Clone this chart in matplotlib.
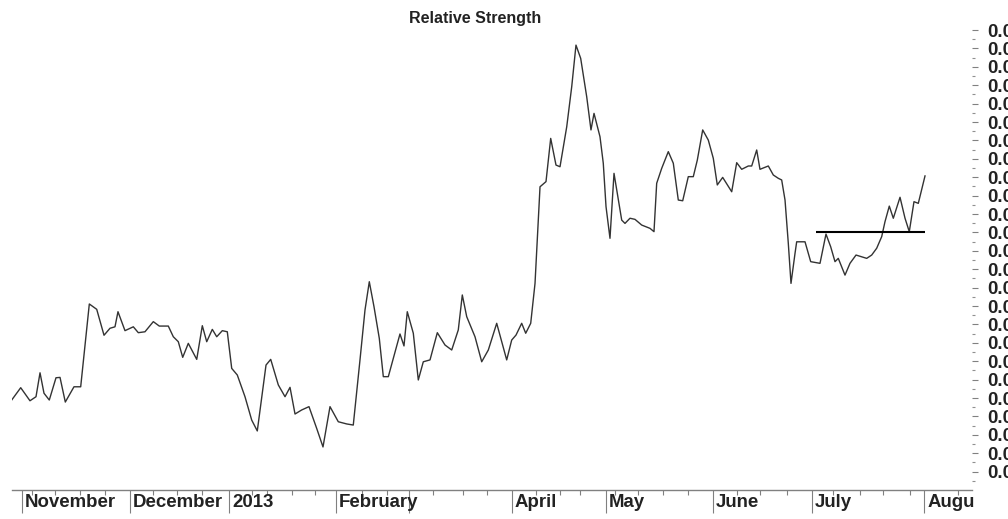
import numpy as np
import matplotlib.pyplot as plt
from matplotlib.transforms import Bbox, TransformedBbox, ScaledTranslation
from matplotlib.ticker import FormatStrFormatter

plt.rcParams['font.family'] = ['Liberation Sans', 'DejaVu Sans']

# trading day index (from first bar) and relative strength value
days = [0.0, 1.84, 3.73, 4.96, 5.78, 6.59, 7.67, 9.04, 9.86, 10.94,
        12.71, 14.08, 15.84, 17.35, 18.84, 20.06, 21.08, 21.69, 23.12, 24.82,
        25.84, 27.20, 28.90, 30.12, 31.96, 32.98, 34.00, 34.90, 36.04, 37.76,
        38.90, 39.80, 40.94, 41.84, 42.98, 44.00, 44.90, 46.04, 47.61, 48.98,
        50.12, 51.90, 52.86, 54.41, 55.78, 56.80, 57.82, 59.18, 60.67, 62.24,
        63.53, 64.96, 66.65, 68.37, 69.71, 71.08, 72.10, 72.98, 73.94, 75.02,
        75.84, 76.86, 77.88, 79.24, 80.06, 80.73, 81.96, 82.98, 84.00, 85.37,
        86.86, 88.43, 89.80, 91.14, 91.96, 92.86, 94.55, 95.92, 97.27, 98.98,
        101.02, 102.04, 102.92, 104.08, 104.90, 105.92, 106.80, 107.82, 109.04, 110.00,
        111.08, 111.90, 113.27, 114.29, 115.16, 116.12, 117.35, 118.22, 118.84, 120.06,
        120.73, 121.29, 122.10, 122.92, 124.49, 125.16, 126.18, 127.20, 128.57, 130.27,
        131.08, 131.63, 132.65, 134.00, 135.02, 136.04, 136.94, 138.08, 139.10, 139.92,
        141.02, 142.16, 143.18, 144.00, 145.10, 146.94, 147.96, 148.98, 150.33, 151.02,
        152.04, 152.71, 154.41, 155.43, 156.45, 157.14, 157.82, 158.49, 159.04, 159.86,
        160.20, 161.90, 163.06, 164.96, 166.18, 167.14, 168.02, 168.69, 170.06, 171.08,
        172.31, 174.49, 175.51, 176.53, 177.55, 178.22, 179.10, 179.92, 181.29, 182.31,
        183.18, 184.14, 185.02, 186.39]

rs = [0.02789, 0.02856, 0.02785, 0.02807, 0.02937, 0.02826, 0.02789, 0.02910, 0.02912, 0.02778,
      0.02861, 0.02861, 0.03311, 0.03282, 0.03141, 0.03179, 0.03187, 0.03269, 0.03166, 0.03187,
      0.03155, 0.03160, 0.03215, 0.03191, 0.03191, 0.03133, 0.03106, 0.03021, 0.03097, 0.03010,
      0.03193, 0.03106, 0.03173, 0.03133, 0.03166, 0.03160, 0.02961, 0.02925, 0.02807, 0.02680,
      0.02621, 0.02979, 0.03010, 0.02871, 0.02807, 0.02858, 0.02713, 0.02735, 0.02753, 0.02635,
      0.02534, 0.02753, 0.02671, 0.02659, 0.02653, 0.03007, 0.03278, 0.03432, 0.03296, 0.03124,
      0.02916, 0.02916, 0.03016, 0.03148, 0.03083, 0.03269, 0.03152, 0.02898, 0.02997, 0.03007,
      0.03155, 0.03088, 0.03061, 0.03170, 0.03360, 0.03242, 0.03133, 0.02997, 0.03061, 0.03206,
      0.03007, 0.03115, 0.03142, 0.03206, 0.03152, 0.03206, 0.03423, 0.03948, 0.03976, 0.04211,
      0.04066, 0.04057, 0.04274, 0.04492, 0.04718, 0.04646, 0.04437, 0.04257, 0.04347, 0.04220,
      0.04076, 0.03840, 0.03668, 0.04021, 0.03767, 0.03749, 0.03777, 0.03771, 0.03740, 0.03722,
      0.03704, 0.03967, 0.04048, 0.04139, 0.04076, 0.03876, 0.03872, 0.04003, 0.04003, 0.04093,
      0.04257, 0.04202, 0.04103, 0.03958, 0.03999, 0.03921, 0.04079, 0.04043, 0.04061, 0.04061,
      0.04148, 0.04043, 0.04061, 0.04012, 0.03994, 0.03985, 0.03876, 0.03641, 0.03423, 0.03586,
      0.03649, 0.03649, 0.03541, 0.03532, 0.03691, 0.03622, 0.03541, 0.03559, 0.03468, 0.03532,
      0.03577, 0.03559, 0.03577, 0.03614, 0.03677, 0.03758, 0.03843, 0.03777, 0.03891, 0.03777,
      0.03704, 0.03867, 0.03858, 0.04007]

# resistance line drawn on the chart
level = 0.03704
level_from = 164.1
level_to = 186.4

month_pos = [2.1, 24.1, 44.35, 66.2, 81.1, 102.1, 121.3, 143.1, 163.3, 186.2]
month_names = ['November', 'December', '2013', 'February', '', 'April', 'May', 'June', 'July', 'August']
week_pos = [4.1, 8.8, 13.9, 19.0, 28.8, 33.7, 38.8, 49.0, 52.1, 57.2, 61.9, 71.5, 76.6,
            86.0, 92.1, 97.0, 107.0, 111.9, 116.0, 123.1, 127.8, 132.9, 138.0, 148.0,
            152.7, 158.2, 167.6, 173.1, 177.8, 183.3, 193.1]
y_major = [i / 1000 for i in range(24, 49)]
y_minor = [i / 1000 + 0.0005 for i in range(23, 48)]

W, H = 1008, 519
fig = plt.figure(figsize=(W / 100, H / 100), dpi=100)
ax = fig.add_axes([11.7 / W, 29 / H, 960.4 / W, 462 / H])

ax.plot(days, rs, color='#333333', lw=1.0)
ax.hlines(level, level_from, level_to, color='black', lw=1.5)

ax.set_xlim(0, 196)
ax.set_ylim(0.0230, 0.04811)

for s in ['top', 'left', 'right']:
    ax.spines[s].set_visible(False)
ax.spines['bottom'].set_color('#808080')
ax.spines['bottom'].set_linewidth(1.0)

# y axis on the right
ax.yaxis.tick_right()
ax.set_yticks(y_major)
ax.set_yticks(y_minor, minor=True)
ax.yaxis.set_major_formatter(FormatStrFormatter('%.3f'))
ax.tick_params(axis='y', which='major', length=4.3, width=0.8, color='#808080',
               pad=6.5, labelsize=13.4, labelcolor='#222222')
ax.tick_params(axis='y', which='minor', length=2.2, width=0.8, color='#909090')
for lbl in ax.get_yticklabels():
    lbl.set_fontweight('bold')

# x axis: month ticks long, weekly ticks short
ax.set_xticks(month_pos)
ax.set_xticklabels([])
ax.set_xticks(week_pos, minor=True)
ax.tick_params(axis='x', which='major', length=16.5, width=0.8, color='#808080')
ax.tick_params(axis='x', which='minor', length=3.6, width=0.8, color='#808080')

offset = ScaledTranslation(3 / 100, -4 / 100, fig.dpi_scale_trans)
trans = ax.get_xaxis_transform() + offset
clip = TransformedBbox(Bbox([[0, 0], [975 / W, 1]]), fig.transFigure)
for p, name in zip(month_pos, month_names):
    t = fig.text(p, 0, name, transform=trans, ha='left', va='top',
                 fontsize=13.4, fontweight='bold', color='#222222')
    t.set_clip_box(clip)
    t.set_clip_on(True)

fig.text(475 / W, 1 - 18 / H, 'Relative Strength', ha='center', va='center',
         fontsize=11.5, fontweight='bold', color='#222222')

fig.savefig('out.png', dpi=100)
